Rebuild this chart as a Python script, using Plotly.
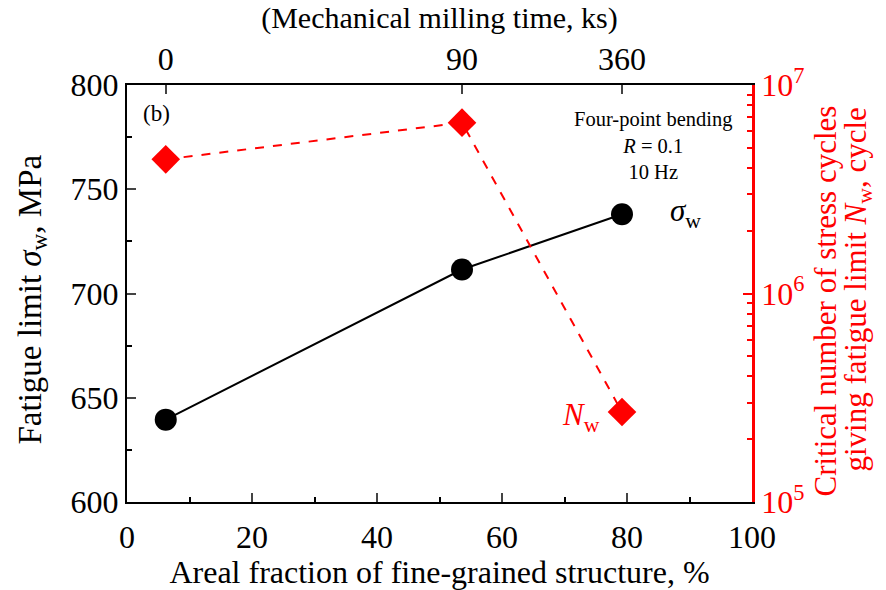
import math
import plotly.graph_objects as go

# Data
fraction = [6.2, 53.6, 79.2]           # Areal fraction of fine-grained structure, %
milling_time_labels = ["0", "90", "360"]  # Mechanical milling time, ks
sigma_w = [639.5, 711.5, 738.0]         # Fatigue limit, MPa
N_w = [4.4e6, 6.6e6, 2.7e5]             # Critical number of cycles
log_minor = [k * 10**e for e in (5, 6) for k in range(2, 10)]

FONT = "Liberation Serif"
RED = "#ff0000"

fig = go.Figure()
fig.add_trace(go.Scatter(
    x=fraction, y=sigma_w, mode="lines+markers",
    line=dict(color="black", width=2),
    marker=dict(symbol="circle", size=22, color="black"),
    xaxis="x", yaxis="y", showlegend=False))
fig.add_trace(go.Scatter(
    x=fraction, y=N_w, mode="lines+markers",
    line=dict(color=RED, width=2, dash="dash"),
    marker=dict(symbol="diamond", size=22, color=RED),
    xaxis="x", yaxis="y2", showlegend=False))
fig.add_trace(go.Scatter(x=fraction, y=sigma_w, mode="markers",
                         marker=dict(opacity=0), xaxis="x2", yaxis="y",
                         showlegend=False, hoverinfo="skip"))
fig.add_trace(go.Scatter(x=fraction, y=N_w, mode="markers",
                         marker=dict(opacity=0), xaxis="x", yaxis="y3",
                         showlegend=False, hoverinfo="skip"))

TS = 32
tickfont = dict(family=FONT, size=TS, color="black")
fig.update_layout(
    template="none",
    width=886, height=590,
    margin=dict(l=127, r=134, t=85, b=88),
    paper_bgcolor="white", plot_bgcolor="white",
    font=dict(family=FONT, size=30, color="black"),
    xaxis=dict(range=[0, 100], tickvals=[0, 20, 40, 60, 80, 100],
               ticks="inside", ticklen=9, tickwidth=2, showline=True,
               linecolor="black", linewidth=2, showgrid=False, zeroline=False,
               tickfont=tickfont, ticklabelstandoff=6,
               minor=dict(ticks="inside", ticklen=5, tickwidth=1.5, dtick=10, tickcolor="black"),
               title=dict(text="Areal fraction of fine-grained structure, %",
                          font=dict(family=FONT, size=32), standoff=0)),
    xaxis2=dict(range=[0, 100], overlaying="x", side="top",
                tickvals=fraction, ticktext=milling_time_labels,
                ticks="inside", ticklen=9, tickwidth=2, showline=True,
                linecolor="black", linewidth=2, showgrid=False, zeroline=False,
                tickfont=tickfont,
                title=dict(text="(Mechanical milling time, ks)",
                           font=dict(family=FONT, size=30), standoff=4)),
    yaxis=dict(range=[600, 800], tickvals=[600, 650, 700, 750, 800],
               ticks="inside", ticklen=9, tickwidth=2, showline=True,
               linecolor="black", linewidth=2, showgrid=False, zeroline=False,
               tickfont=tickfont,
               minor=dict(ticks="inside", ticklen=5, tickwidth=1.5, dtick=25, tickcolor="black")),
    yaxis2=dict(type="log", range=[5, 7], overlaying="y", side="right",
                tickvals=[1e5, 1e6, 1e7],
                ticktext=["10<sup>5</sup>", "10<sup>6</sup>", "10<sup>7</sup>"],
                ticks="inside", ticklen=9, tickwidth=2, tickcolor=RED,
                showline=True, linecolor=RED, linewidth=2.5, showgrid=False,
                zeroline=False,
                tickfont=dict(family=FONT, size=TS, color=RED)),
    yaxis3=dict(type="log", range=[5, 7], overlaying="y", side="right",
                tickvals=log_minor, ticktext=[""] * len(log_minor),
                ticks="inside", ticklen=5, tickwidth=1.5, tickcolor=RED,
                showline=False, showgrid=False, zeroline=False, showticklabels=False),
)

# Axis titles (left and right) as rotated annotations
fig.add_annotation(x=0, y=0.5, xref="paper", yref="paper", xshift=-95, yshift=-6,
                   text="Fatigue limit <i>σ</i><sub>w</sub>, MPa", textangle=-90,
                   showarrow=False, xanchor="center", yanchor="middle",
                   font=dict(family=FONT, size=33))
fig.add_annotation(x=1, y=0.5, xref="paper", yref="paper", xshift=73, yshift=-8,
                   text="Critical number of stress cycles", textangle=-90,
                   showarrow=False, xanchor="center", yanchor="middle",
                   font=dict(family=FONT, size=31, color=RED))
fig.add_annotation(x=1, y=0.5, xref="paper", yref="paper", xshift=105, yshift=4,
                   text="giving fatigue limit <i>N</i><sub>w</sub>, cycle", textangle=-90,
                   showarrow=False, xanchor="center", yanchor="middle",
                   font=dict(family=FONT, size=31, color=RED))

fig.add_annotation(x=0.047, y=0.966, xref="paper", yref="paper", text="(b)",
                   showarrow=False, xanchor="center", yanchor="top",
                   font=dict(family=FONT, size=23))
fig.add_annotation(x=0.842, y=0.95, xref="paper", yref="paper",
                   text="Four-point bending<br><i>R</i> = 0.1<br>10 Hz",
                   showarrow=False, xanchor="center", yanchor="top", align="center",
                   font=dict(family=FONT, size=20.5))
fig.add_annotation(x=fraction[2], y=sigma_w[2], xref="x", yref="y",
                   text="<i>σ</i><sub>w</sub>", showarrow=False,
                   xanchor="left", yanchor="middle", xshift=46, yshift=1,
                   font=dict(family=FONT, size=31))
fig.add_annotation(x=fraction[2], y=math.log10(N_w[2]), xref="x", yref="y2",
                   text="<i>N</i><sub>w</sub>", showarrow=False,
                   xanchor="right", yanchor="middle", xshift=-20, yshift=-5,
                   font=dict(family=FONT, size=31, color=RED))

fig.write_html("out.html")
